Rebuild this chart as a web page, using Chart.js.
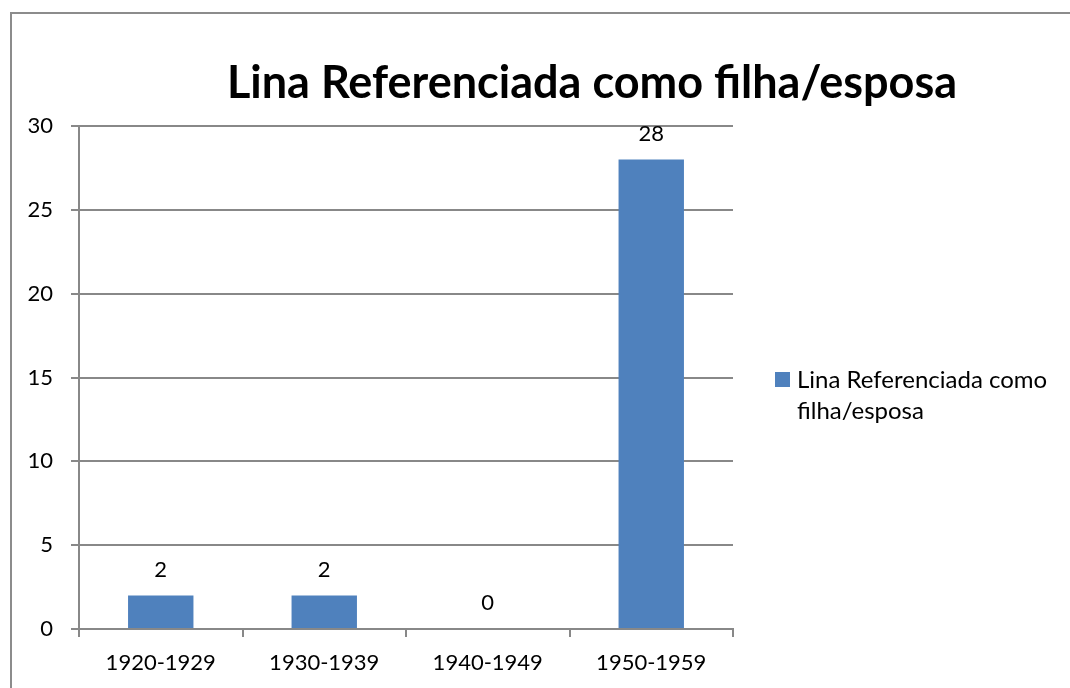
<!DOCTYPE html>
<html>
<head>
<meta charset="utf-8">
<script src="https://cdn.jsdelivr.net/npm/chart.js@4.4.1/dist/chart.umd.min.js"></script>
<style>
  html, body { margin: 0; padding: 0; background: #fff; overflow: hidden; }
  #moldura { position: absolute; left: 10px; top: 12px; width: 1100px; height: 720px; border: 2px solid #8c8c8c; }
  #grafico { position: absolute; left: 0; top: 0; }
</style>
</head>
<body>
<div id="moldura"></div>
<canvas id="grafico" width="1070" height="688"></canvas>
<script>
const decadas = ["1920-1929", "1930-1939", "1940-1949", "1950-1959"];
const contagens = [2, 2, 0, 28];
const tituloTexto = "Lina Referenciada como filha/esposa";
const legendaLinhas = ["Lina Referenciada como", "filha/esposa"];
const fonte = "Lato, 'Open Sans', sans-serif";
const corBarra = "#4f81bd";
const corGrade = "#888888";

// titulo desenhado por cima do grafico
const tituloPlugin = {
    id: 'tituloPlugin',
    afterDraw(chart) {
        const ctx = chart.ctx;
        ctx.save();
        ctx.font = "bold 45px " + fonte;
        ctx.fillStyle = "#000";
        ctx.textAlign = "center";
        ctx.textBaseline = "middle";
        ctx.fillText(tituloTexto, 592, 83);
        ctx.restore();
    }
};

// valores por cima das barras
const rotulosPlugin = {
    id: 'rotulosPlugin',
    afterDatasetsDraw(chart) {
        const ctx = chart.ctx;
        const meta = chart.getDatasetMeta(0);
        ctx.save();
        ctx.font = "22px " + fonte;
        ctx.fillStyle = "#000";
        ctx.textAlign = "center";
        ctx.textBaseline = "middle";
        meta.data.forEach((bar, i) => {
            ctx.fillText(String(contagens[i]), bar.x, bar.y - 26);
        });
        ctx.restore();
    }
};

// legenda com texto em duas linhas
const legendaPlugin = {
    id: 'legendaPlugin',
    afterDraw(chart) {
        const ctx = chart.ctx;
        const x = chart.chartArea.right + 42;
        const y = 380;
        ctx.save();
        ctx.fillStyle = corBarra;
        ctx.fillRect(x, y - 8, 15, 15);
        ctx.font = "24px " + fonte;
        ctx.fillStyle = "#000";
        ctx.textBaseline = "middle";
        legendaLinhas.forEach((linha, i) => {
            ctx.fillText(linha, x + 22, y + i * 31);
        });
        ctx.restore();
    }
};

new Chart(document.getElementById('grafico').getContext('2d'), {
    type: 'bar',
    data: {
        labels: decadas,
        datasets: [{
            label: legendaLinhas.join(" "),
            data: contagens,
            backgroundColor: corBarra,
            borderWidth: 0,
            barPercentage: 0.4,
            categoryPercentage: 1.0
        }]
    },
    options: {
        responsive: false,
        animation: false,
        layout: { padding: { top: 126, right: 337, bottom: 0, left: 0 } },
        plugins: {
            legend: { display: false },
            title: { display: false },
            tooltip: { enabled: false }
        },
        scales: {
            x: {
                grid: { display: true, drawOnChartArea: false, drawTicks: true, tickLength: 8, color: corGrade, lineWidth: 2, offset: true },
                border: { display: true, color: corGrade, width: 2 },
                ticks: { color: "#000", font: { family: fonte, size: 22 }, padding: 13 },
                afterFit(scale) { scale.height = 59; }
            },
            y: {
                min: 0,
                max: 30,
                ticks: { stepSize: 5, color: "#000", font: { family: fonte, size: 22 }, padding: 18 },
                grid: { color: corGrade, lineWidth: 2, tickLength: 8 },
                border: { display: true, color: corGrade, width: 2 },
                afterFit(scale) { scale.width = 79; }
            }
        }
    },
    plugins: [tituloPlugin, rotulosPlugin, legendaPlugin]
});
</script>
</body>
</html>
